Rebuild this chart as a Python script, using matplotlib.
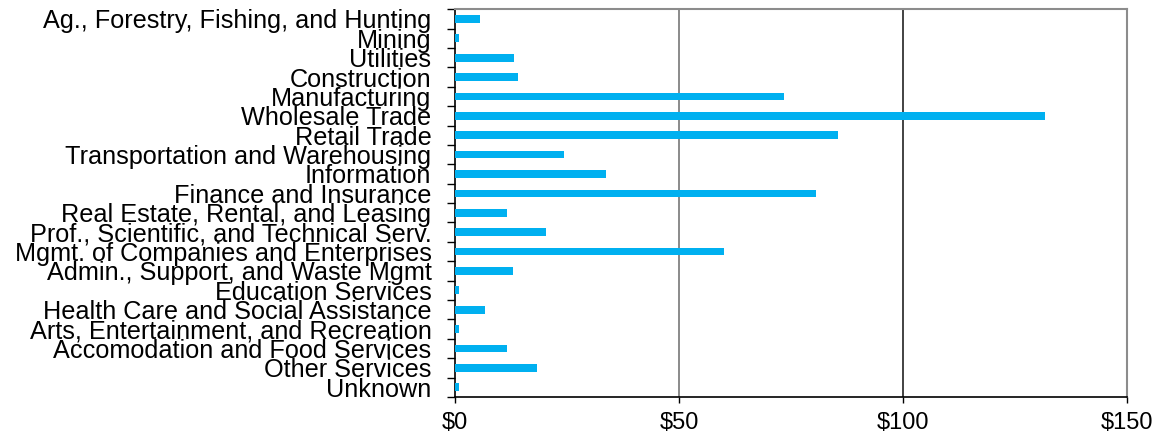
import matplotlib.pyplot as plt
import numpy as np

plt.rcParams["font.family"] = ["Liberation Sans", "DejaVu Sans"]

# Categorías de arriba hacia abajo
industrias = [
    "Ag., Forestry, Fishing, and Hunting",
    "Mining",
    "Utilities",
    "Construction",
    "Manufacturing",
    "Wholesale Trade",
    "Retail Trade",
    "Transportation and Warehousing",
    "Information",
    "Finance and Insurance",
    "Real Estate, Rental, and Leasing",
    "Prof., Scientific, and Technical Serv.",
    "Mgmt. of Companies and Enterprises",
    "Admin., Support, and Waste Mgmt",
    "Education Services",
    "Health Care and Social Assistance",
    "Arts, Entertainment, and Recreation",
    "Accomodation and Food Services",
    "Other Services",
    "Unknown",
]
valores = [5.6, 0.9, 13.2, 14.1, 73.4, 131.8, 85.6, 24.4, 33.6, 80.6,
           11.6, 20.2, 60.0, 12.9, 0.9, 6.7, 0.8, 11.6, 18.2, 0.8]
xticks = [0, 50, 100, 150]
xlabels = ["$0", "$50", "$100", "$150"]

fig = plt.figure(figsize=(11.55, 4.36), dpi=100)
ax = fig.add_axes([0.394, 0.0894, 0.5816, 0.8896])

pos = np.arange(len(industrias))
ax.barh(pos, valores, height=0.4, color="#00B0F0", zorder=3)

ax.set_xlim(0, 150)
ax.set_ylim(len(industrias) - 0.5, -0.5)
ax.set_xticks(xticks)
ax.set_xticklabels(xlabels, fontsize=17)
ax.set_yticks(pos)
ax.set_yticklabels(industrias, fontsize=18.2, linespacing=1.0)
ax.set_yticks(np.arange(len(industrias) + 1) - 0.5, minor=True)

ax.tick_params(axis="y", which="major", length=0, pad=17)
ax.tick_params(axis="y", which="minor", length=6, width=1, color="black")
ax.tick_params(axis="x", length=4, width=1, pad=7)

# Líneas de cuadrícula verticales
ax.grid(axis="x", zorder=0)
colores_grid = ["none", "#777777", "#222222", "none"]
for linea, c in zip(ax.get_xgridlines(), colores_grid):
    linea.set_color(c)
    linea.set_linewidth(1.2)

for lado in ["left", "bottom"]:
    ax.spines[lado].set_color("black")
    ax.spines[lado].set_linewidth(1.2)
for lado in ["top", "right"]:
    ax.spines[lado].set_color("#8c8c8c")
    ax.spines[lado].set_linewidth(1.5)

plt.savefig("out.png", dpi=100)
